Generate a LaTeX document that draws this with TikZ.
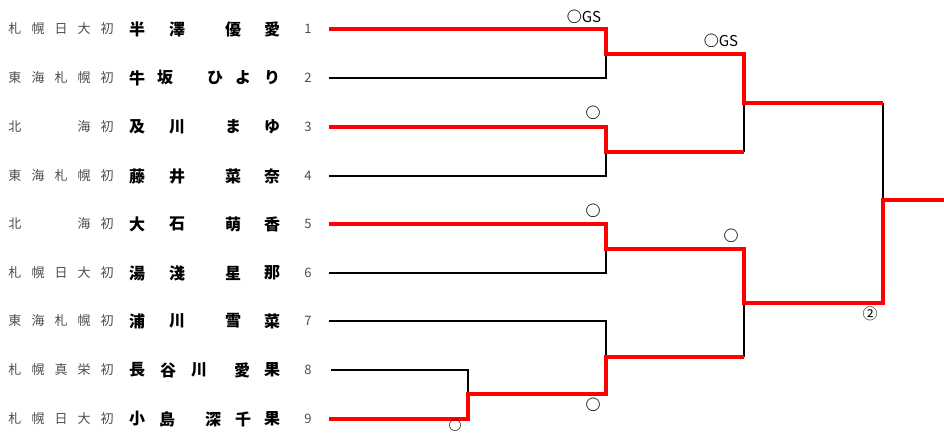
\documentclass[tikz,border=0pt]{standalone}
\usepackage{fontspec}
\setmainfont{Noto Sans CJK JP}
\begin{document}
\begin{tikzpicture}[x=1pt,y=-1pt,
    school/.style={text=black!70,font=\fontsize{13}{13}\selectfont,inner sep=0pt},
    player/.style={font=\bfseries\fontsize{16}{16}\selectfont,inner sep=0pt},
    num/.style={text=black!70,font=\fontsize{13}{13}\selectfont,inner sep=0pt},
    res/.style={font=\fontsize{15}{15}\selectfont,inner sep=0pt},
    win/.style={draw=red,line width=3.2pt},
    lose/.style={draw=black,line width=1.6pt}]
  \useasboundingbox (0,0) rectangle (944,432);
  % entries
  \foreach \i/\y/\sch/\nam in {
      1/29/{札,幌,日,大,初}/{137/半,177/澤,233/優,272/愛},
      2/78/{東,海,札,幌,初}/{137/牛,165/坂,215/ひ,243/よ,272/り},
      3/127/{北,,,海,初}/{137/及,177/川,233/ま,272/ゆ},
      4/176/{東,海,札,幌,初}/{137/藤,177/井,233/菜,272/奈},
      5/224/{北,,,海,初}/{137/大,177/石,233/萌,272/香},
      6/273/{札,幌,日,大,初}/{137/湯,177/淺,233/星,272/那},
      7/321/{東,海,札,幌,初}/{137/浦,177/川,233/雪,272/菜},
      8/370/{札,幌,真,栄,初}/{137/長,168/谷,199/川,242/愛,272/果},
      9/419/{札,幌,日,大,初}/{137/小,167/島,213/深,243/千,272/果}}{
    \foreach \c [count=\k] in \sch
      \node[school] (s\i-\k) at ({\k*23-8},\y) {\c};
    \foreach \x/\c [count=\k] in \nam
      \node[player] (p\i-\k) at (\x,\y) {\c};
    \node[num] (n\i) at (308,\y) {\i};
    \coordinate (e\i) at (329,\y);
  }
  \coordinate (e8) at (331,370);
  % bracket points
  \coordinate (m1) at (606,54);
  \coordinate (m2) at (606,152);
  \coordinate (m3) at (606,249);
  \coordinate (m0) at (468,394);
  \coordinate (m4) at (606,357);
  \coordinate (q1) at (744,103);
  \coordinate (q2) at (744,303);
  \coordinate (r) at (883,200);
  \coordinate (fin) at (944,200);
  % losers
  \draw[lose] (e2) -| (m1);
  \draw[lose] (e4) -| (m2);
  \draw[lose] (e6) -| (m3);
  \draw[lose] (e8) -| (m0);
  \draw[lose] (e7) -| (m4);
  \draw[lose] (m2 -| q1) -- (q1);
  \draw[lose] (m4 -| q2) -- (q2);
  \draw[lose] (q1 -| r) -- (r);
  % winners
  \draw[win] (e1) -| (m1) -| (q1) -- (q1 -| r);
  \draw[win] (e3) -| (m2) -- (m2 -| q1);
  \draw[win] (e9) -| (m0) -| (m4) -- (m4 -| q2);
  \draw[win] (e5) -| (m3) -| (q2) -| (r) -- (fin);
  % results
  \node[res] (g1) at (584,17) {\bfseries ○\mdseries GS};
  \node[res] (g2) at (721,41) {\bfseries ○\mdseries GS};
  \node[res] (w2) at (593,113) {\bfseries ○};
  \node[res] (w3) at (593,211) {\bfseries ○};
  \node[res] (w4) at (593,405) {\bfseries ○};
  \node[res,font=\fontsize{13}{13}\selectfont] (w0) at (455,426) {\bfseries ○};
  \node[res] (w5) at (731,236) {\bfseries ○};
  \node[res] (w6) at (870,314) {②};
\end{tikzpicture}
\end{document}
